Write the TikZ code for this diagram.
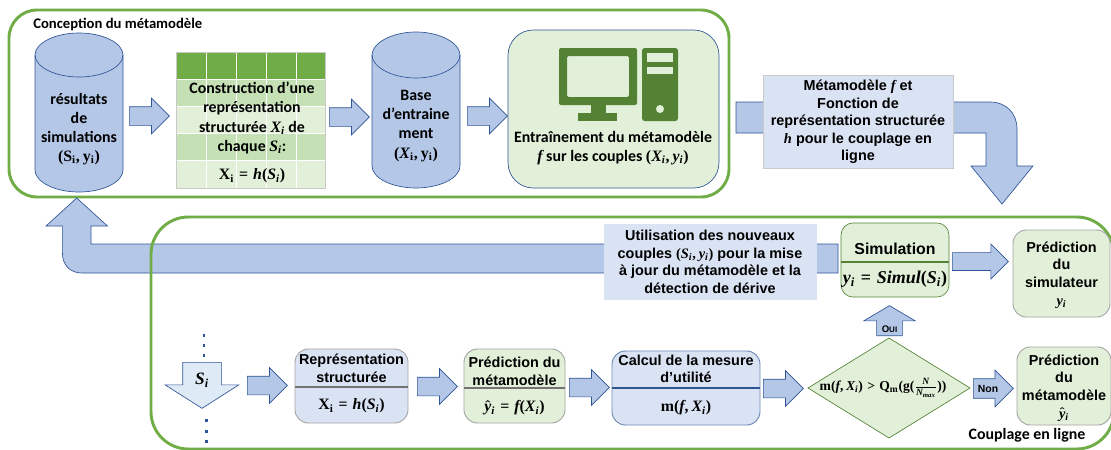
\RequirePackage{fix-cm}
\documentclass[tikz,border=0pt]{standalone}
\usepackage[no-math]{fontspec}
\setmainfont{Carlito}
\newfontfamily\arialfont{Liberation Sans}
\newfontfamily\serifletters[NFSSFamily=lserif]{Liberation Serif}
\DeclareSymbolFont{boldletters}{TU}{lserif}{bx}{it}
\DeclareSymbolFont{boldsigns}{TU}{lserif}{bx}{n}
\DeclareMathAlphabet{\mathbf}{TU}{lserif}{bx}{n}
\newcommand{\boldletter}[1]{\Umathcode`#1="7 \symboldletters `#1\relax}
\boldletter{S}\boldletter{X}\boldletter{N}\boldletter{y}\boldletter{i}\boldletter{f}
\boldletter{h}\boldletter{m}\boldletter{a}\boldletter{x}\boldletter{u}\boldletter{l}
\Umathcode`(="4 \symboldsigns `(\relax
\Umathcode`)="5 \symboldsigns `)\relax
\Umathcode`,="6 \symboldsigns `,\relax
\Umathcode`=="3 \symboldsigns `=\relax
\Umathcode`>="3 \symboldsigns `>\relax
\usetikzlibrary{shapes.arrows,shapes.geometric}

\definecolor{framegreen}{RGB}{112,173,71}
\definecolor{darkgreen}{RGB}{84,130,53}
\definecolor{lightgreen}{RGB}{226,240,217}
\definecolor{midgreen}{RGB}{197,224,180}
\definecolor{arrowblue}{RGB}{180,199,231}
\definecolor{lineblue}{RGB}{47,85,151}
\definecolor{paleblue}{RGB}{218,227,243}
\definecolor{icyblue}{RGB}{222,235,247}
\definecolor{softgray}{RGB}{165,165,165}

\tikzset{
  calibritext/.style={font=\fontsize{11.9}{14.3}\selectfont\bfseries\boldmath,align=center,inner sep=0pt},
  titletext/.style={calibritext,font=\fontsize{11}{14.3}\selectfont\bfseries},
  arialtext/.style={font=\arialfont\fontsize{10.8}{13.2}\selectfont\bfseries\boldmath,align=center,inner sep=0pt},
  frame/.style={draw=framegreen,line width=2.2pt,rounded corners=21pt},
  dbshape/.style={draw=lineblue,fill=arrowblue,line width=0.5pt},
  roundbox/.style={line width=0.7pt,rounded corners=10pt},
  bentarrow/.style={draw=lineblue,fill=arrowblue,line width=0.5pt},
  blockarrow/.style={single arrow,draw=lineblue,fill=arrowblue,line width=0.5pt,inner xsep=0pt,inner ysep=6.75pt,anchor=tail,
    minimum width=26.25pt,minimum height=30pt,single arrow head extend=6.4pt,single arrow tip angle=90},
}

\begin{document}
\begin{tikzpicture}[x=0.75pt,y=0.75pt,yscale=-1]
\useasboundingbox (0,0) rectangle (1111,450);

%Shape: Frame top
\draw [frame] (9,10) rectangle (729,197);
%Shape: Bent arrow bottom
\draw [bentarrow] (838,244) -- (91,244) -- (91,226) -- (107.5,226) -- (76.7,198) -- (46,226) -- (62.4,226) -- (62.4,253) .. controls (62.4,265) and (70,273) .. (82,273) -- (838,273) -- cycle ;
%Shape: Frame bottom
\draw [frame,rounded corners=28pt] (151,217) rectangle (1114,449);
%Shape: Bent arrow top
\draw [bentarrow] (736,102) -- (990,102) .. controls (1006,102) and (1017,113) .. (1017,129) -- (1017,166) -- (1033,166) -- (1002,204) -- (971,166) -- (986,166) -- (986,133) -- (736,133) -- cycle ;

%Shape: Can results
\draw [dbshape] (35,55) .. controls (35,43) and (55,33) .. (79,33) .. controls (103,33) and (123,43) .. (123,55) -- (123,170) .. controls (123,182) and (103,192) .. (79,192) .. controls (55,192) and (35,182) .. (35,170) -- cycle ;
\draw [dbshape,fill=none] (35,55) .. controls (35,67) and (55,77) .. (79,77) .. controls (103,77) and (123,67) .. (123,55) ;
%Shape: Can base
\draw [dbshape] (372,55) .. controls (372,43) and (392,32) .. (416,32) .. controls (440,32) and (460,43) .. (460,55) -- (460,166) .. controls (460,178) and (440,188) .. (416,188) .. controls (392,188) and (372,178) .. (372,166) -- cycle ;
\draw [dbshape,fill=none] (372,55) .. controls (372,67) and (392,78) .. (416,78) .. controls (440,78) and (460,67) .. (460,55) ;

%Shape: Table
\fill [framegreen] (176,52) rectangle (325,79) ;
\fill [midgreen] (176,79) rectangle (325,106) ;
\fill [lightgreen] (176,106) rectangle (325,133) ;
\fill [midgreen] (176,133) rectangle (325,160) ;
\fill [lightgreen] (176,160) rectangle (325,188) ;
\draw [white,line width=0.7pt] (206,52) -- (206,188) ;
\draw [white,line width=0.7pt] (236,52) -- (236,188) ;
\draw [white,line width=0.7pt] (266,52) -- (266,188) ;
\draw [white,line width=0.7pt] (296,52) -- (296,188) ;
\draw [white,line width=1.2pt] (176,79.5) -- (325,79.5) ;
\draw [white,line width=0.7pt] (176,106) -- (325,106) ;
\draw [white,line width=0.7pt] (176,133) -- (325,133) ;
\draw [white,line width=0.7pt] (176,160) -- (325,160) ;
\draw [softgray!60,line width=0.5pt] (176,52) rectangle (325,188) ;

%Shape: Training box
\draw [roundbox,draw=lineblue,fill=lightgreen,line width=0.5pt,rounded corners=19pt] (508,30) rectangle (719,188) ;
%Shape: Computer icon
\fill [darkgreen,rounded corners=1.5pt,even odd rule] (559,48) rectangle (637,105) (567,56) rectangle (629,97) ;
\fill [darkgreen] (591,105) rectangle (606,113) ;
\fill [darkgreen] (578,113) rectangle (617,121) ;
\fill [darkgreen,rounded corners=2pt] (642,48) rectangle (678,121) ;
\fill [lightgreen] (647,53) rectangle (673,62) ;
\fill [lightgreen] (647,67) rectangle (673,74) ;
\fill [lightgreen] (660,109) circle (3pt) ;

%Shape: Arrows
\node (arrowa) [blockarrow] at (129,116) {};
\node (arrowb) [blockarrow] at (329,117) {};
\node (arrowc) [blockarrow] at (467,116) {};
\node (arrowsim) [blockarrow,minimum height=42pt,inner ysep=6.4pt] at (952,261.5) {};
\node (arrowdown) [blockarrow,fill=icyblue,rotate=-90,inner ysep=14.25pt,minimum width=54.75pt,minimum height=34.5pt,single arrow head extend=13.1pt,single arrow tip angle=115] at (202,362) {};
\node (arrowd) [blockarrow] at (247,385.5) {};
\node (arrowe) [blockarrow] at (417,386.5) {};
\node (arrowf) [blockarrow] at (569,387.5) {};
\node (arrowg) [blockarrow] at (763,388.5) {};
\node (arrowno) [blockarrow,inner ysep=7.1pt] at (973,388.5) {};
\node (arrowyes) [blockarrow,rotate=90,inner ysep=9.4pt,minimum width=38.25pt,minimum height=22.5pt,single arrow head extend=9.75pt,single arrow tip angle=119] at (889.5,336) {};

%Shape: Dots
\fill [lineblue] (202.5,333.5) rectangle (205,336.5) ;
\fill [lineblue] (202.5,343.5) rectangle (205,346.5) ;
\fill [lineblue] (202.5,353.5) rectangle (205,356.5) ;
\fill [lineblue] (205,418.5) rectangle (207.5,421.5) ;
\fill [lineblue] (205,429.5) rectangle (207.5,432.5) ;
\fill [lineblue] (205,439.5) rectangle (207.5,442.5) ;

%Shape: Label boxes
\draw [draw=softgray!60,fill=paleblue,line width=0.5pt] (763,75) rectangle (953,168) ;
\draw [draw=paleblue,fill=paleblue,line width=0.5pt] (604.5,224) rectangle (816,299) ;

%Shape: Simulation
\draw [roundbox,draw=darkgreen,fill=lightgreen,rounded corners=9pt,line width=0.5pt] (841,223) rectangle (949,297) ;
\draw [draw=darkgreen,line width=0.8pt] (841,262) -- (949,262) ;
%Shape: Prediction simulator
\draw [roundbox,draw=softgray,fill=lightgreen] (1013,230) rectangle (1110,317) ;
%Shape: Representation
\draw [roundbox,draw=softgray,fill=paleblue] (295,349) rectangle (408,423) ;
\draw [draw=softgray!70!black,line width=0.8pt] (295,387) -- (408,387) ;
%Shape: Prediction metamodel
\draw [roundbox,draw=softgray,fill=lightgreen] (464,349) rectangle (565,423) ;
\draw [draw=softgray!70!black,line width=0.8pt] (464,388) -- (565,388) ;
%Shape: Measure
\draw [roundbox,draw=lineblue!70,fill=paleblue] (612,351) rectangle (760,425) ;
\draw [draw=lineblue,line width=0.8pt] (612,388) -- (760,388) ;
%Shape: Decision
\draw [draw=darkgreen,fill=lightgreen,line width=0.5pt] (808,388) -- (889,338) -- (970,388) -- (889,438) -- cycle ;
%Shape: Prediction metamodel output
\draw [roundbox,draw=softgray,fill=lightgreen] (1017,347) rectangle (1111,425) ;

% Text Node
\node (conception) [titletext,anchor=west] at (33,24) {Conception du métamodèle};
% Text Node
\node (results) [calibritext] at (79,129) {résultats\\de\\simulations\\$(\mathbf{S_i},\mathbf{y_i})$};
% Text Node
\node (building) [calibritext] at (252,118) {Construction d’une\\représentation\\structurée $X_i$ de\\chaque $S_i$:};
% Text Node
\node (formula) [calibritext] at (252,176) {$\mathbf{X_i}=h(S_i)$};
% Text Node
\node (database) [calibritext] at (416,126) {Base\\d’entraine\\ment\\$(X_{\mathbf{i}},\mathbf{y_i})$};
% Text Node
\node (training) [calibritext] at (613,148) {Entraînement du métamodèle\\$f$ sur les couples $(X_i,y_i)$};
% Text Node
\node (metamodel) [arialtext] at (858,122) {Métamodèle $f$ et\\Fonction de\\représentation structurée\\$h$ pour le couplage en\\ligne};
% Text Node
\node (usage) [arialtext] at (710,262) {Utilisation des nouveaux\\couples $(S_i,y_i)$ pour la mise\\à jour du métamodèle et la\\détection de dérive};
% Text Node
\node (simulation) [arialtext,font=\arialfont\fontsize{11.9}{13}\selectfont\bfseries] at (895,249) {Simulation};
% Text Node
\node (simformula) [arialtext,font=\fontsize{13.5}{14}\selectfont\boldmath] at (895,279) {$y_i=Simul(S_i)$};
% Text Node
\node (predsim) [arialtext] at (1061.5,275) {Prédiction\\du\\simulateur\\$y_i$};
% Text Node
\node (si) [calibritext,font=\fontsize{13}{14}\selectfont\boldmath] at (202,380) {$S_i$};
% Text Node
\node (repr) [arialtext] at (351.5,368.5) {Représentation\\structurée};
% Text Node
\node (reprformula) [calibritext] at (351.5,406) {$\mathbf{X_i}=h(S_i)$};
% Text Node
\node (predmeta) [arialtext] at (514.5,371.5) {Prédiction du\\métamodèle};
% Text Node
\node (predformula) [calibritext] at (514.5,408) {$\hat{y}_i=f(X_i)$};
% Text Node
\node (measure) [arialtext] at (686,369) {Calcul de la mesure\\d’utilité};
% Text Node
\node (measureformula) [calibritext] at (686,408) {$\mathbf{m}(f,X_i)$};
% Text Node
\node (criterion) [calibritext,font=\fontsize{10.2}{11}\selectfont\boldmath] at (883,388) {$\mathbf{m}(f,X_i)>\mathbf{Q_m}(\mathbf{g}(\frac{N}{N_{max}}))$};
% Text Node
\node (yes) [arialtext,font=\arialfont\fontsize{7.2}{8}\selectfont\bfseries] at (889.5,329) {O{\fontsize{6}{8}\selectfont UI}};
% Text Node
\node (no) [arialtext,font=\arialfont\fontsize{7.8}{8}\selectfont\bfseries] at (988,388.5) {Non};
% Text Node
\node (predmetaout) [arialtext] at (1064,388) {Prédiction\\du\\métamodèle\\$\hat{y}_i$};
% Text Node
\node (coupling) [calibritext,anchor=center] at (1027,435) {Couplage en ligne};

\end{tikzpicture}
\end{document}
